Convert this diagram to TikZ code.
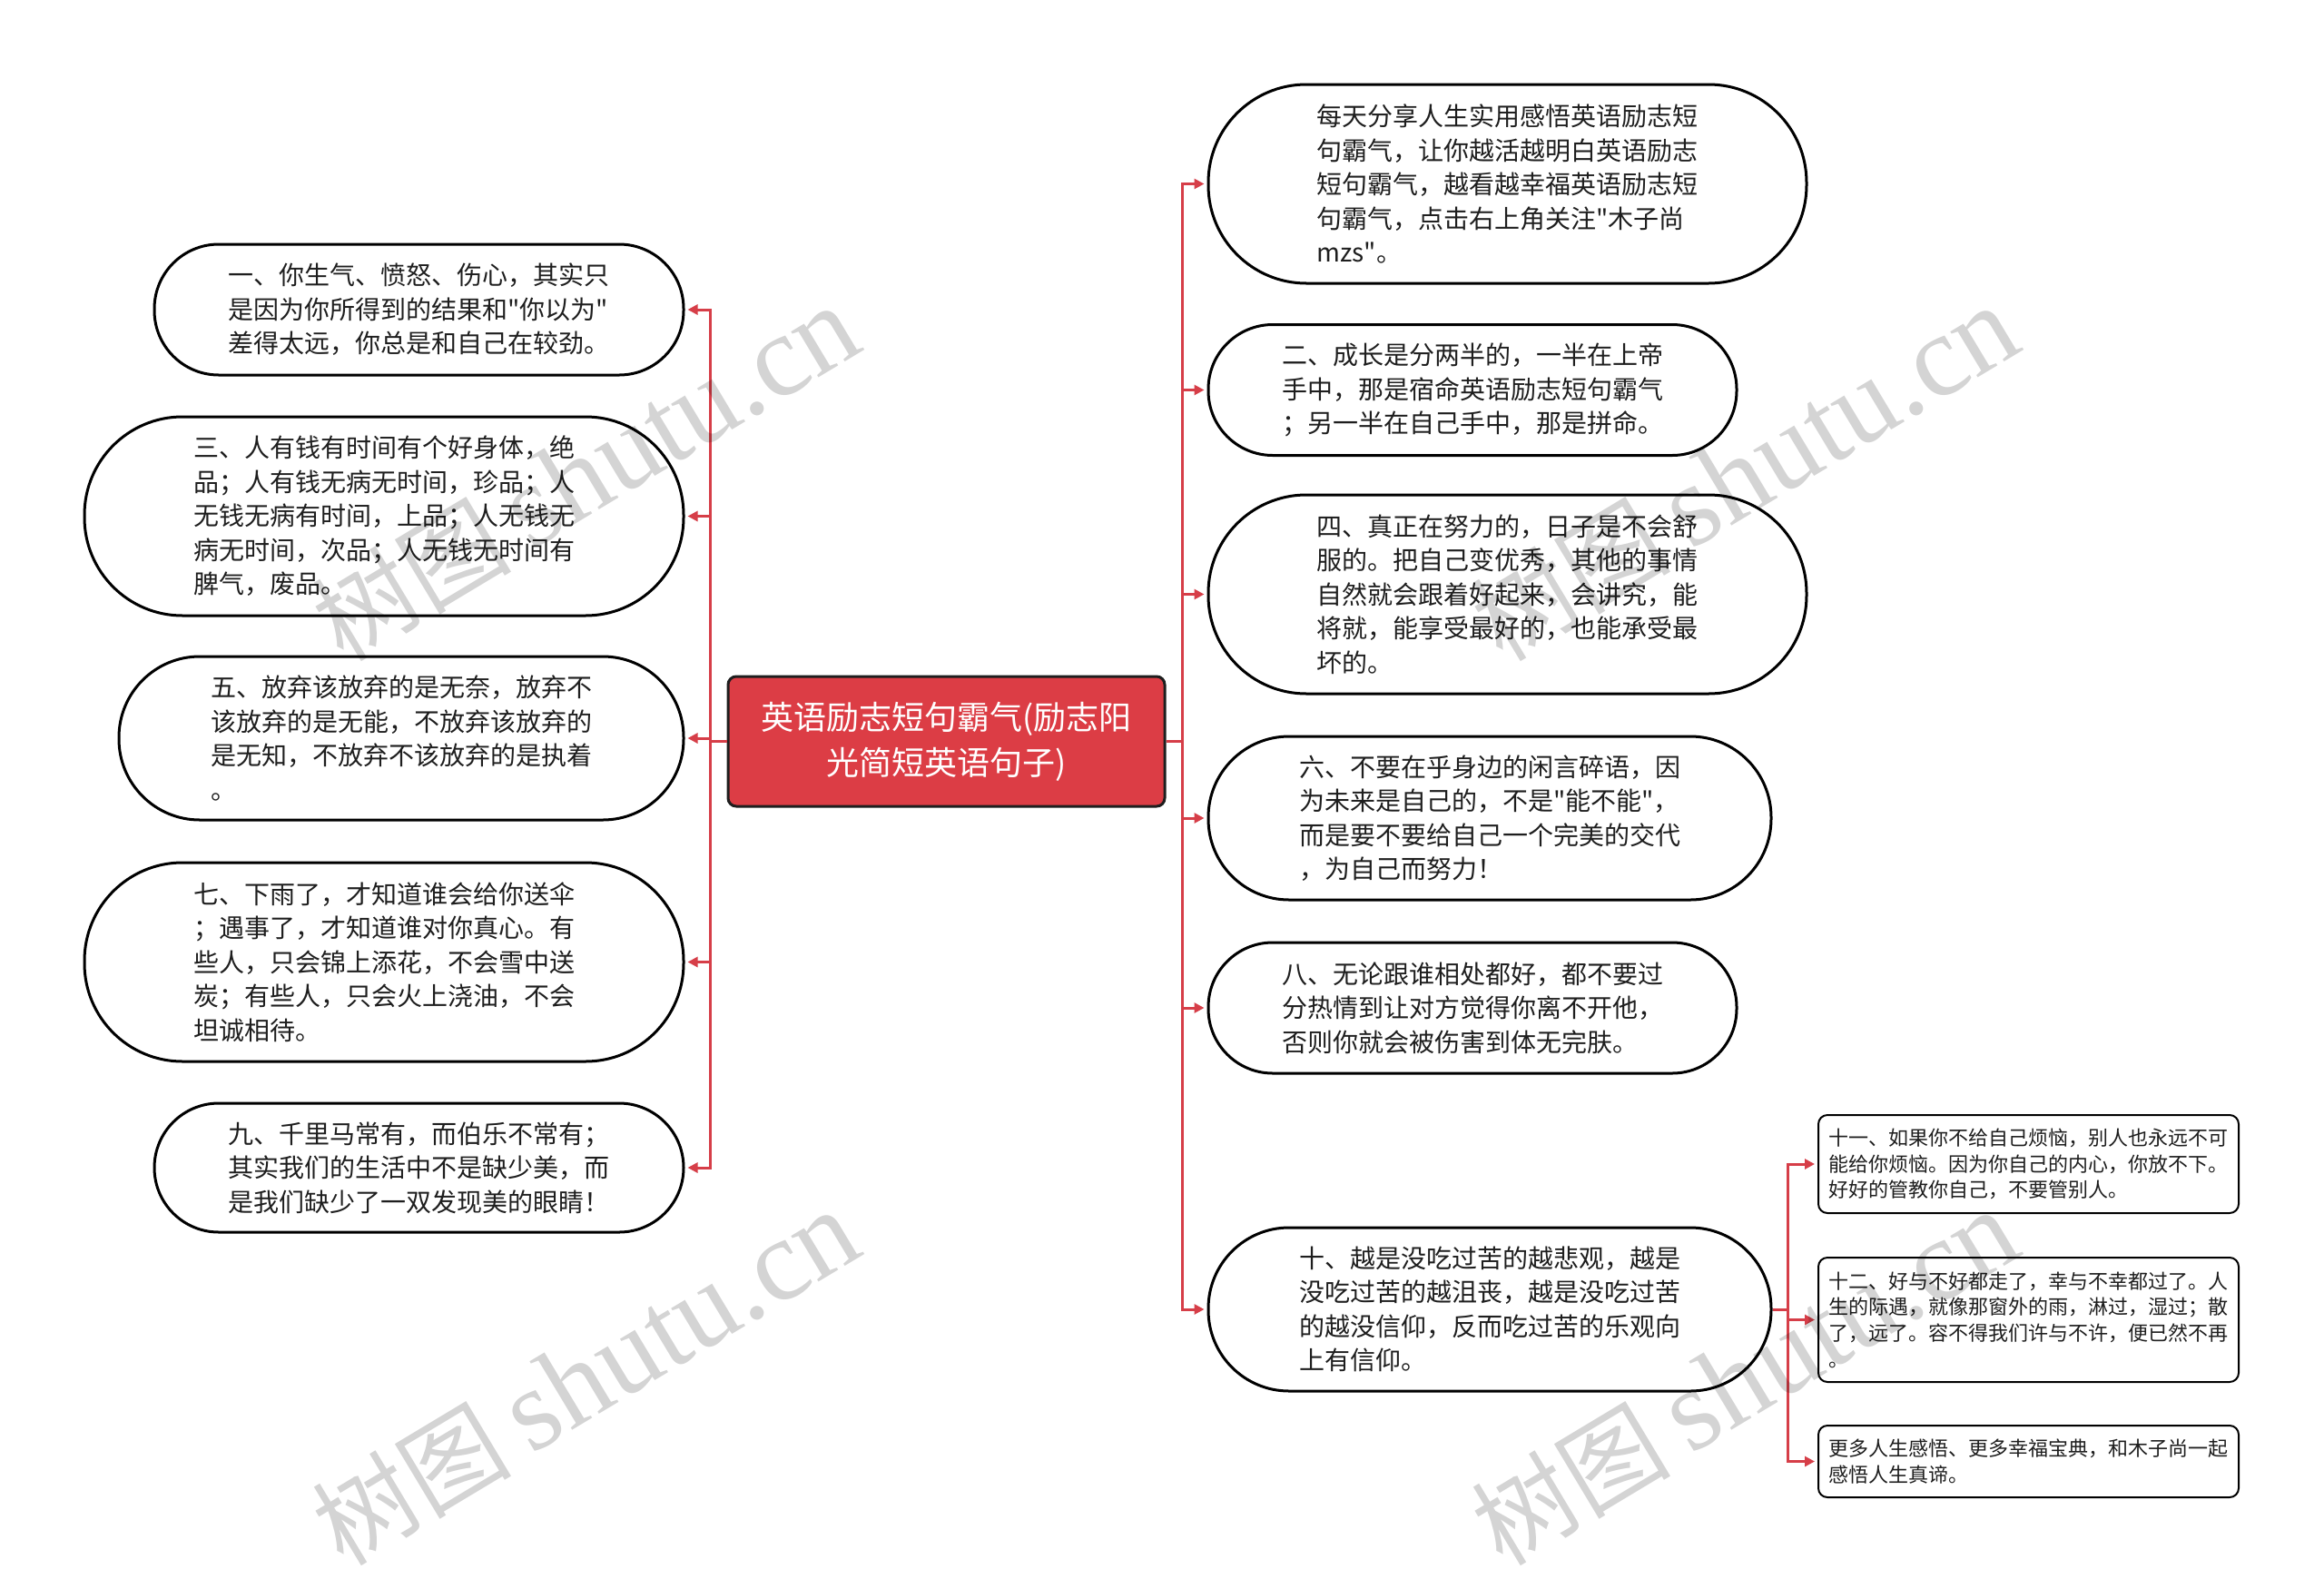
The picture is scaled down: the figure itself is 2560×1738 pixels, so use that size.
\documentclass[tikz,border=0pt]{standalone}
\usepackage{fontspec}
\setmainfont{Noto Sans CJK SC}[Ligatures=TeXOff]
\newfontfamily\wmlatin{Liberation Serif}
\usetikzlibrary{arrows.meta}
\definecolor{linered}{RGB}{214,62,72}
\definecolor{rootred}{RGB}{220,61,69}
\definecolor{txt}{RGB}{30,30,30}
\tikzset{
  pill/.style={draw=black, line width=3pt, fill=white, rectangle, align=left, text=txt,
    font=\fontsize{28pt}{37.5pt}\selectfont, inner sep=0pt},
  pillthree/.style={pill, minimum height=144pt, rounded corners=71pt},
  pillfour/.style={pill, minimum height=180pt, rounded corners=89pt},
  pillfive/.style={pill, minimum height=219pt, rounded corners=108pt},
  subbox/.style={draw=black, line width=2pt, fill=white, rounded corners=10pt, align=left,
    text=txt, font=\fontsize{22pt}{28.7pt}\selectfont, minimum width=463pt, inner sep=0pt},
  rootbox/.style={draw={rgb,255:red,30;green,30;blue,30}, line width=3pt, fill=rootred, rounded corners=9pt,
    align=center, text=white, font=\fontsize{36pt}{50pt}\selectfont,
    minimum width=481pt, minimum height=143pt, inner sep=0pt},
  conn/.style={draw=linered, line width=3pt, -{Triangle[length=11pt,width=11pt]}, shorten >=3pt},
  wm/.style={text=black, text opacity=0.17, inner sep=0pt}
}
\begin{document}
\begin{tikzpicture}[x=1pt,y=-1pt]
\useasboundingbox (0,0) rectangle (2560,1738);
\fill[white] (0,0) rectangle (2560,1738);

% root
\node[rootbox] (root) at (1042.5,816.5) {英语励志短句霸气(励志阳\\光简短英语句子)};

% left children
\node[pillthree, minimum width=583pt] (n1) at (461.5,341) {一、你生气、愤怒、伤心，其实只\\是因为你所得到的结果和"你以为"\\差得太远，你总是和自己在较劲。};
\node[pillfive, minimum width=660pt] (n3) at (423,568.5) {三、人有钱有时间有个好身体，绝\\品；人有钱无病无时间，珍品；人\\无钱无病有时间，上品；人无钱无\\病无时间，次品；人无钱无时间有\\脾气，废品。};
\node[pillfour, minimum width=622pt] (n5) at (442,813) {五、放弃该放弃的是无奈，放弃不\\该放弃的是无能，不放弃该放弃的\\是无知，不放弃不该放弃的是执着\\。};
\node[pillfive, minimum width=660pt] (n7) at (423,1059.5) {七、下雨了，才知道谁会给你送伞\\；遇事了，才知道谁对你真心。有\\些人，只会锦上添花，不会雪中送\\炭；有些人，只会火上浇油，不会\\坦诚相待。};
\node[pillthree, minimum width=583pt, minimum height=142pt] (n9) at (461.5,1286) {九、千里马常有，而伯乐不常有；\\其实我们的生活中不是缺少美，而\\是我们缺少了一双发现美的眼睛！};

% right children
\node[pillfive, minimum width=659pt] (r0) at (1660.5,202.5) {每天分享人生实用感悟英语励志短\\句霸气，让你越活越明白英语励志\\短句霸气，越看越幸福英语励志短\\句霸气，点击右上角关注"木子尚\\mzs"。};
\node[pillthree, minimum width=582pt] (r2) at (1622,429.5) {二、成长是分两半的，一半在上帝\\手中，那是宿命英语励志短句霸气\\；另一半在自己手中，那是拼命。};
\node[pillfive, minimum width=659pt] (r4) at (1660.5,654.5) {四、真正在努力的，日子是不会舒\\服的。把自己变优秀，其他的事情\\自然就会跟着好起来，会讲究，能\\将就，能享受最好的，也能承受最\\坏的。};
\node[pillfour, minimum width=620pt] (r6) at (1641,901) {六、不要在乎身边的闲言碎语，因\\为未来是自己的，不是"能不能"，\\而是要不要给自己一个完美的交代\\，为自己而努力！};
\node[pillthree, minimum width=582pt] (r8) at (1622,1110) {八、无论跟谁相处都好，都不要过\\分热情到让对方觉得你离不开他，\\否则你就会被伤害到体无完肤。};
\node[pillfour, minimum width=620pt] (r10) at (1641,1442) {十、越是没吃过苦的越悲观，越是\\没吃过苦的越沮丧，越是没吃过苦\\的越没信仰，反而吃过苦的乐观向\\上有信仰。};

% sub children
\node[subbox, minimum height=108pt] (s11) at (2234.5,1282) {十一、如果你不给自己烦恼，别人也永远不可\\能给你烦恼。因为你自己的内心，你放不下。\\好好的管教你自己，不要管别人。};
\node[subbox, minimum height=137pt] (s12) at (2234.5,1453.5) {十二、好与不好都走了，幸与不幸都过了。人\\生的际遇，就像那窗外的雨，淋过，湿过；散\\了，远了。容不得我们许与不许，便已然不再\\。};
\node[subbox, minimum height=79pt] (s13) at (2234.5,1609.5) {更多人生感悟、更多幸福宝典，和木子尚一起\\感悟人生真谛。};

% connectors
\foreach \t in {n1,n3,n5,n7,n9}
  \draw[conn] (root.west) -- ++(-18,0) |- (\t.east);
\foreach \t in {r0,r2,r4,r6,r8,r10}
  \draw[conn] (root.east) -- ++(18,0) |- (\t.west);
\foreach \t in {s11,s12,s13}
  \draw[conn] (r10.east) -- ++(17,0) |- (\t.west);

% watermarks
\foreach \cx/\cy [count=\i] in {645/522, 645/1518, 1922/522, 1922/1518}
  \node[wm, rotate=31] (wm\i) at (\cx,\cy) {{\fontsize{110pt}{110pt}\selectfont 树图}\hspace{22pt}{\wmlatin\fontsize{128pt}{128pt}\selectfont shutu.cn}};
\end{tikzpicture}
\end{document}
